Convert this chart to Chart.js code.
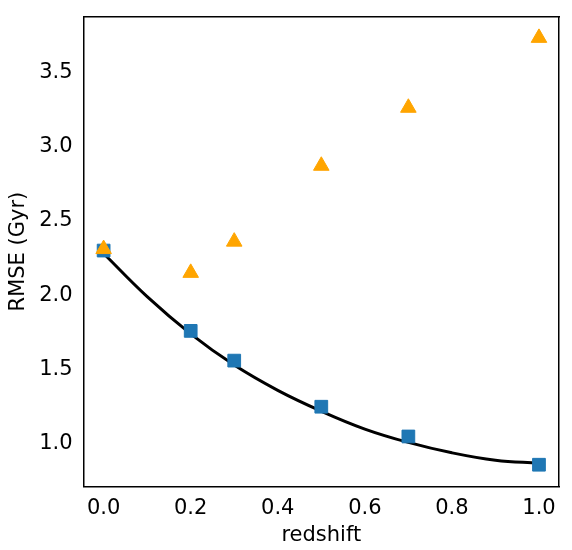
<!DOCTYPE html>
<html>
<head>
<script src="https://cdn.jsdelivr.net/npm/chart.js@4"></script>
<style>
  body { margin: 0; background: #fff; }
  #wrap { width: 572px; height: 550px; }
</style>
</head>
<body>
<div id="wrap"><canvas id="rmseChart"></canvas></div>
<script>
// Data
const redshift = [0.0, 0.2, 0.3, 0.5, 0.7, 1.0];
const rmseSquares = [2.30, 1.76, 1.56, 1.25, 1.05, 0.86];
const rmseTriangles = [2.31, 2.15, 2.36, 2.87, 3.26, 3.73];
const fitX = [0.0, 0.1, 0.2, 0.3, 0.4, 0.5, 0.6, 0.7, 0.8, 0.9, 1.0];
const fitY = [2.28, 1.99, 1.74, 1.53, 1.36, 1.22, 1.10, 1.01, 0.94, 0.89, 0.87];
const xTicks = [0.0, 0.2, 0.4, 0.6, 0.8, 1.0];
const yTicks = [1.0, 1.5, 2.0, 2.5, 3.0, 3.5];

const toPoints = (xs, ys) => xs.map((x, i) => ({ x: x, y: ys[i] }));

Chart.defaults.font.family = 'DejaVu Sans';
Chart.defaults.color = '#000';

const X_MIN = -0.046, X_MAX = 1.046, Y_MIN = 0.713, Y_MAX = 3.873;

const ctx = document.getElementById('rmseChart').getContext('2d');
new Chart(ctx, {
    type: 'scatter',
    data: {
        datasets: [{
            label: 'fit',
            type: 'line',
            data: toPoints(fitX, fitY),
            borderColor: '#000',
            borderWidth: 3,
            pointRadius: 0,
            tension: 0.4,
            order: 2
        }, {
            label: 'squares',
            data: toPoints(redshift, rmseSquares),
            pointStyle: 'rect',
            pointRadius: 9,
            backgroundColor: '#1f77b4',
            borderColor: '#1f77b4',
            order: 1
        }, {
            label: 'triangles',
            data: toPoints(redshift, rmseTriangles),
            pointStyle: 'triangle',
            pointRadius: 9,
            backgroundColor: '#ffa500',
            borderColor: '#ffa500',
            order: 0
        }]
    },
    options: {
        responsive: true,
        maintainAspectRatio: false,
        animation: false,
        layout: { padding: { top: 2, right: 5, bottom: 2, left: 2 } },
        plugins: { legend: { display: false }, tooltip: { enabled: false } },
        scales: {
            x: {
                type: 'linear',
                min: X_MIN,
                max: X_MAX,
                title: { display: true, text: 'redshift', font: { size: 21 }, padding: 0 },
                grid: { display: false, drawTicks: true, tickLength: 7, tickColor: '#000' },
                border: { color: '#000', width: 1.5 },
                afterBuildTicks: axis => { axis.ticks = xTicks.map(v => ({ value: v })); },
                ticks: { font: { size: 21 }, padding: 2, callback: v => v.toFixed(1) }
            },
            x2: {
                position: 'top', min: X_MIN, max: X_MAX,
                grid: { display: false }, border: { color: '#000', width: 1.5 },
                ticks: { display: false }
            },
            y: {
                min: Y_MIN,
                max: Y_MAX,
                title: { display: true, text: 'RMSE (Gyr)', font: { size: 21 }, padding: 4 },
                grid: { display: false, drawTicks: true, tickLength: 7, tickColor: '#000' },
                border: { color: '#000', width: 1.5 },
                afterBuildTicks: axis => { axis.ticks = yTicks.map(v => ({ value: v })); },
                ticks: { font: { size: 21 }, padding: 4, callback: v => v.toFixed(1) }
            },
            y2: {
                position: 'right', min: Y_MIN, max: Y_MAX,
                grid: { display: false }, border: { color: '#000', width: 1.5 },
                ticks: { display: false }
            }
        }
    }
});
</script>
</body>
</html>
